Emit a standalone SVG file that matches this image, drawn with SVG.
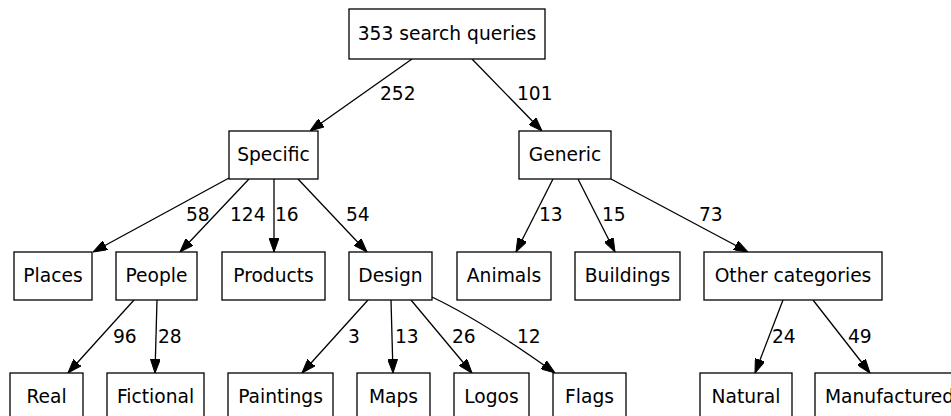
<svg xmlns="http://www.w3.org/2000/svg" width="951" height="416" viewBox="0 0 951 416">
<style>
rect{fill:#fff;stroke:#000;stroke-width:1.3}
text{font-family:"DejaVu Sans",sans-serif;font-size:18.67px;fill:#000}
.n text{text-anchor:middle}
.e path{fill:none;stroke:#000;stroke-width:1.3;marker-end:url(#a)}
</style>
<defs>
<marker id="a" viewBox="0 0 14 10" refX="14" refY="5" markerWidth="14" markerHeight="10" markerUnits="userSpaceOnUse" orient="auto">
<path d="M0,0 L14,5 L0,10 z" fill="#000" stroke="#000" stroke-width="1"/>
</marker>
</defs>
<rect x="-1" y="-1" width="953" height="418" style="fill:#fff;stroke:none"/>
<g class="e" id="edges">
<path d="M412,59 L310,131"/><text x="380" y="100">252</text>
<path d="M472,59 L542,131"/><text x="517" y="100">101</text>
<path d="M229,178 L93,252"/><text x="186" y="221">58</text>
<path d="M249,179 L180,252"/><text x="230" y="221">124</text>
<path d="M274,179 L274,252"/><text x="275" y="221">16</text>
<path d="M298,179 L367,252"/><text x="346" y="221">54</text>
<path d="M553,179 L516,252"/><text x="539" y="221">13</text>
<path d="M578,179 L615,252"/><text x="602" y="221">15</text>
<path d="M611,179 L748,252"/><text x="699" y="221">73</text>
<path d="M134,300 L68,373"/><text x="113" y="343">96</text>
<path d="M157,300 L155,373"/><text x="158" y="343">28</text>
<path d="M368,300 L302,373"/><text x="348" y="343">3</text>
<path d="M391,300 L393,373"/><text x="395" y="343">13</text>
<path d="M411,300 L472,373"/><text x="452" y="343">26</text>
<path d="M432,297 C455,308 495,330 555,373"/><text x="517" y="343">12</text>
<path d="M783,300 L755,373"/><text x="772" y="343">24</text>
<path d="M813,300 L870,373"/><text x="848" y="343">49</text>
</g>
<g class="n" id="root"><rect x="349" y="9" width="196" height="50"/><text x="447" y="40">353 search queries</text></g>
<g class="n" id="specific"><rect x="229" y="131" width="89" height="48"/><text x="273.5" y="161">Specific</text></g>
<g class="n" id="generic"><rect x="519" y="131" width="92" height="48"/><text x="565" y="161">Generic</text></g>
<g class="n" id="places"><rect x="14" y="252" width="78" height="48"/><text x="53" y="282">Places</text></g>
<g class="n" id="people"><rect x="116" y="252" width="81" height="48"/><text x="156.5" y="282">People</text></g>
<g class="n" id="products"><rect x="222" y="252" width="103" height="48"/><text x="273.5" y="282">Products</text></g>
<g class="n" id="design"><rect x="349" y="252" width="83" height="48"/><text x="390.5" y="282">Design</text></g>
<g class="n" id="animals"><rect x="457" y="252" width="94" height="48"/><text x="504" y="282">Animals</text></g>
<g class="n" id="buildings"><rect x="575" y="252" width="105" height="48"/><text x="627.5" y="282">Buildings</text></g>
<g class="n" id="other"><rect x="704" y="252" width="178" height="48"/><text x="793" y="282">Other categories</text></g>
<g class="n" id="real"><rect x="10" y="373" width="73" height="48"/><text x="46.5" y="403">Real</text></g>
<g class="n" id="fictional"><rect x="107" y="373" width="97" height="48"/><text x="155.5" y="403">Fictional</text></g>
<g class="n" id="paintings"><rect x="228" y="373" width="105" height="48"/><text x="280.5" y="403">Paintings</text></g>
<g class="n" id="maps"><rect x="357" y="373" width="73" height="48"/><text x="393.5" y="403">Maps</text></g>
<g class="n" id="logos"><rect x="454" y="373" width="75" height="48"/><text x="491.5" y="403">Logos</text></g>
<g class="n" id="flags"><rect x="553" y="373" width="73" height="48"/><text x="589.5" y="403">Flags</text></g>
<g class="n" id="natural"><rect x="700" y="373" width="92" height="48"/><text x="746" y="403">Natural</text></g>
<g id="manufactured"><rect x="815" y="373" width="150" height="48"/><text x="825" y="403">Manufactured</text></g>
</svg>
